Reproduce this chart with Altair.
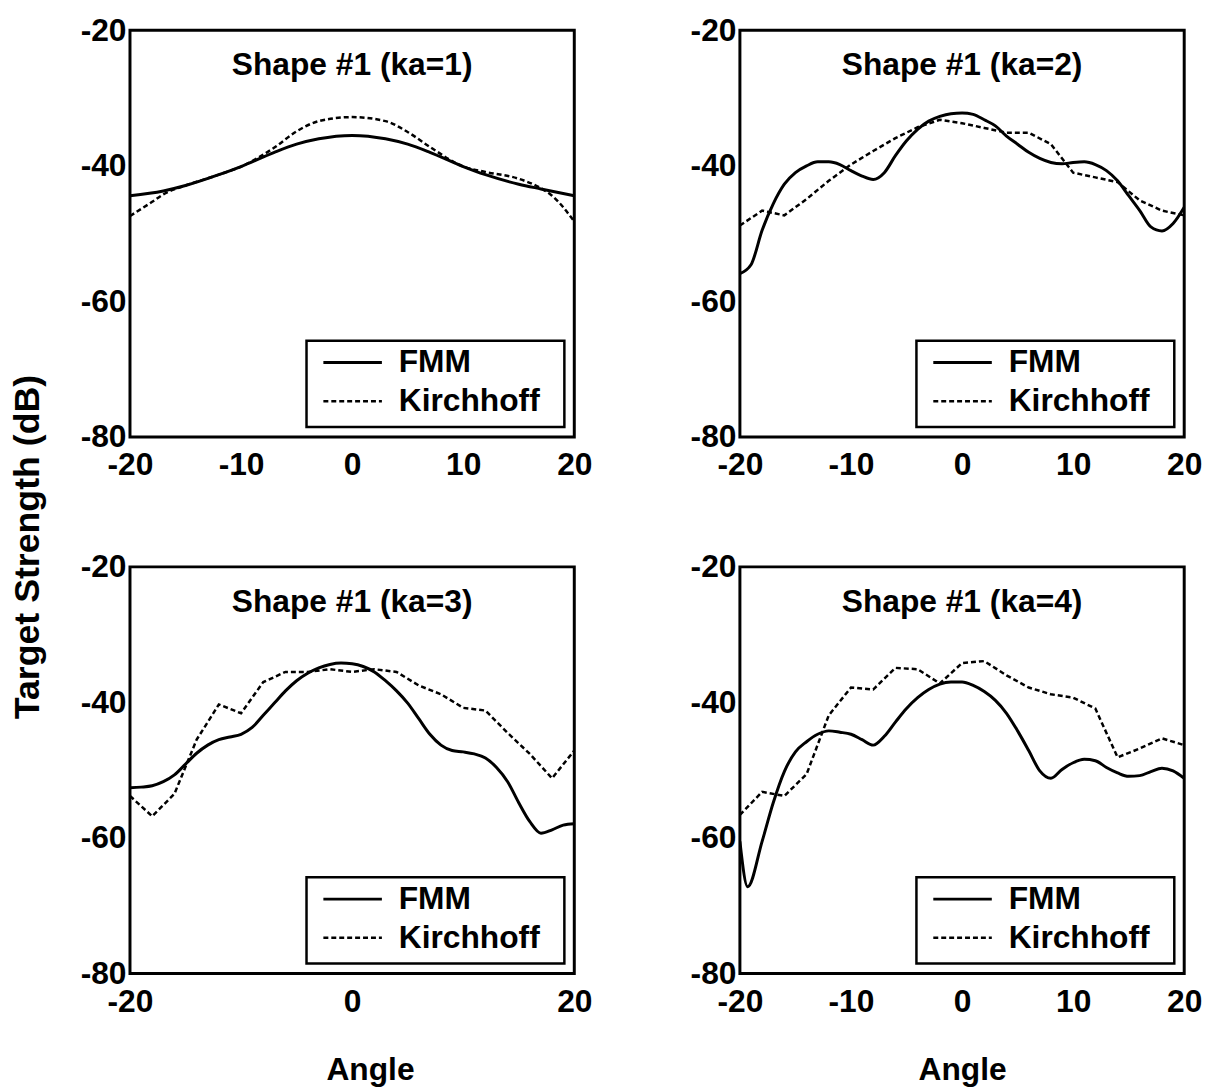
import altair as alt
import pandas as pd

FONT = "Liberation Sans"

SERIES = ["FMM", "Kirchhoff"]
TITLES = ["Shape #1 (ka=1)", "Shape #1 (ka=2)", "Shape #1 (ka=3)", "Shape #1 (ka=4)"]
Y_TITLE = "Target Strength (dB)"
X_TITLE = "Angle"
Y_TICKS = [-20, -40, -60, -80]
X_TICKS = [
    [-20, -10, 0, 10, 20],
    [-20, -10, 0, 10, 20],
    [-20, 0, 20],
    [-20, -10, 0, 10, 20],
]

# ---- panel 1 (ka=1)
P1_FMM_ANGLE = [-20, -17, -15, -12, -10, -7, -5, -3, 0, 3, 5, 7, 10, 12, 15, 17, 20]
P1_FMM = [-44.4, -43.7, -42.9, -41.3, -40.1, -38.0, -36.8, -36.0, -35.5, -36.0,
          -36.8, -38.0, -40.1, -41.3, -42.7, -43.4, -44.4]
P1_KIR_ANGLE = [-20, -18, -17, -15, -12, -10, -7, -5, -3, 0, 3, 5, 7, 10, 12, 15, 17, 18, 20]
P1_KIR = [-47.4, -45.3, -44.2, -42.9, -41.3, -40.1, -37.3, -34.9, -33.4, -32.8,
          -33.4, -35.0, -37.2, -40.1, -40.9, -41.9, -43.3, -44.4, -48.2]

# ---- panel 2 (ka=2)
P2_FMM_ANGLE = list(range(-20, 21))
P2_FMM = [-55.9, -54.6, -49.5, -45.6, -42.7, -41.0, -40.0, -39.4, -39.4, -39.8,
          -40.7, -41.5, -42.0, -41.0, -38.5, -36.3, -34.6, -33.4, -32.7, -32.3,
          -32.2, -32.4, -33.2, -34.1, -35.6, -36.8, -38.0, -38.9, -39.5, -39.7,
          -39.5, -39.4, -39.8, -40.7, -42.2, -44.4, -46.6, -49.0, -49.6, -48.5, -46.1]
P2_KIR_ANGLE = list(range(-20, 21, 2))
P2_KIR = [-48.8, -46.6, -47.3, -44.9, -42.2, -39.8, -37.8, -35.9, -34.3, -33.2,
          -33.7, -34.4, -35.1, -35.1, -36.8, -41.0, -41.7, -42.4, -45.1, -46.6, -47.3]

# ---- panel 3 (ka=3)
P3_FMM_ANGLE = list(range(-20, 21))
P3_FMM = [-52.6, -52.5, -52.3, -51.7, -50.7, -49.1, -47.5, -46.3, -45.5, -45.1,
          -44.7, -43.7, -41.9, -40.1, -38.3, -36.8, -35.7, -34.9, -34.4, -34.2,
          -34.3, -34.7, -35.5, -36.8, -38.3, -40.1, -42.4, -44.7, -46.3, -47.1,
          -47.3, -47.6, -48.2, -49.6, -51.7, -54.8, -57.6, -59.3, -58.8, -58.1, -57.9]
P3_KIR_ANGLE = list(range(-20, 21, 2))
P3_KIR = [-53.8, -56.8, -53.5, -45.5, -40.3, -41.6, -37.0, -35.5, -35.5, -35.1,
          -35.5, -35.1, -35.5, -37.5, -38.8, -40.8, -41.2, -44.5, -47.6, -51.2, -47.1]

# ---- panel 4 (ka=4)
P4_FMM_ANGLE = [-20, -19.3, -18, -17, -16, -15, -14, -13, -12, -11, -10, -9, -8, -7,
                -6, -5, -4, -3, -2, -1, 0, 1, 2, 3, 4, 5, 6, 7, 8, 9, 10, 11, 12, 13,
                14, 15, 16, 17, 18, 19, 20]
P4_FMM = [-60.5, -67.2, -60.5, -54.8, -50.2, -47.3, -45.8, -44.7, -44.2, -44.4,
          -44.7, -45.5, -46.3, -45.0, -42.9, -40.9, -39.3, -38.1, -37.3, -37.0,
          -37.0, -37.5, -38.4, -39.7, -41.6, -44.2, -47.1, -50.1, -51.2, -49.9,
          -48.9, -48.4, -48.6, -49.6, -50.4, -50.9, -50.8, -50.2, -49.7, -50.1, -51.2]
P4_KIR_ANGLE = list(range(-20, 21, 2))
P4_KIR = [-56.6, -53.2, -53.8, -50.6, -41.9, -37.8, -38.1, -34.9, -35.1, -37.2,
          -34.2, -33.9, -36.0, -37.8, -38.8, -39.3, -40.9, -48.1, -46.8, -45.3, -46.3]

PANELS = [
    (P1_FMM_ANGLE, P1_FMM, P1_KIR_ANGLE, P1_KIR),
    (P2_FMM_ANGLE, P2_FMM, P2_KIR_ANGLE, P2_KIR),
    (P3_FMM_ANGLE, P3_FMM, P3_KIR_ANGLE, P3_KIR),
    (P4_FMM_ANGLE, P4_FMM, P4_KIR_ANGLE, P4_KIR),
]

W, H = 448, 410
FS = 32
ONE = pd.DataFrame({"k": [0]})
HYPHEN_LABEL = "datum.value < 0 ? '-' + abs(datum.value) : '' + datum.value"


def make_panel(i):
    fa, fv, ka, kv = PANELS[i]
    fmm_df = pd.DataFrame({"angle": fa, "ts": fv, "series": SERIES[0]})
    kir_df = pd.DataFrame({"angle": ka, "ts": kv, "series": SERIES[1]})
    bottom = i >= 2
    xkw = dict(
        values=X_TICKS[i], labelExpr=HYPHEN_LABEL, labelFont=FONT, labelFontSize=FS,
        labelFontWeight="bold", labelColor="black", domain=False, ticks=False, grid=False,
        labelFlush=False, labelOverlap=False, labelPadding=13,
    )
    if bottom:
        xkw.update(title=X_TITLE, titleFont=FONT, titleFontSize=FS, titleFontWeight="bold",
                   titleColor="black", titlePadding=38)
        if i == 2:
            xkw["titleX"] = W / 2 + 18
    else:
        xkw["title"] = None
    xax = alt.Axis(**xkw)
    yax = alt.Axis(
        values=Y_TICKS, labelExpr=HYPHEN_LABEL, labelFont=FONT, labelFontSize=FS,
        labelFontWeight="bold", labelColor="black", domain=False, ticks=False, grid=False,
        labelFlush=False, labelOverlap=False, labelPadding=4, title=None,
    )
    xs = alt.Scale(domain=[-20, 20], nice=False)
    ys = alt.Scale(domain=[-80, -20], nice=False)

    fmm = alt.Chart(fmm_df).mark_line(
        color="black", strokeWidth=3, interpolate="monotone", clip=True
    ).encode(x=alt.X("angle:Q", scale=xs, axis=xax), y=alt.Y("ts:Q", scale=ys, axis=yax))
    kir = alt.Chart(kir_df).mark_line(
        color="black", strokeWidth=2.5, strokeDash=[5, 3],
        interpolate="monotone" if i == 0 else "linear", clip=True
    ).encode(x=alt.X("angle:Q", scale=xs, axis=xax), y=alt.Y("ts:Q", scale=ys, axis=yax))

    title = alt.Chart(ONE).mark_text(
        font=FONT, fontSize=FS, fontWeight="bold", color="black",
        align="center", baseline="middle"
    ).encode(x=alt.value(W / 2), y=alt.value(35), text=alt.value(TITLES[i]))

    box = alt.Chart(ONE).mark_rect(fill="white", stroke="black", strokeWidth=2.5).encode(
        x=alt.value(W - 270), x2=alt.value(W - 10), y=alt.value(H - 97), y2=alt.value(H - 10)
    )
    layers = [fmm, kir, title, box]
    for j, name in enumerate(SERIES):
        yy = H - 75 + 39 * j
        rule_kw = dict(color="black", strokeWidth=3 if j == 0 else 2.5)
        if j == 1:
            rule_kw["strokeDash"] = [5, 3]
        layers.append(
            alt.Chart(ONE).mark_rule(**rule_kw).encode(
                x=alt.value(W - 253), x2=alt.value(W - 194), y=alt.value(yy)
            )
        )
        layers.append(
            alt.Chart(ONE).mark_text(
                font=FONT, fontSize=FS, fontWeight="bold", color="black",
                align="left", baseline="middle"
            ).encode(x=alt.value(W - 177), y=alt.value(yy), text=alt.value(name))
        )
    if i == 2:
        layers.append(
            alt.Chart(ONE).mark_text(
                font=FONT, fontSize=36, fontWeight="bold", color="black",
                align="center", baseline="middle", angle=270
            ).encode(x=alt.value(-103), y=alt.value(-20), text=alt.value(Y_TITLE))
        )
    return alt.layer(*layers).properties(width=W, height=H)


chart = alt.ConcatChart(
    concat=[make_panel(k) for k in range(4)],
    columns=2,
    spacing={"row": 131, "column": 167},
    bounds="flush",
).properties(
    padding={"left": 0, "top": 0, "right": 5, "bottom": 5}
).configure(background="white").configure_view(stroke="black", strokeWidth=3)

chart.save("out.html", embed_options={"renderer": "svg", "actions": False})
